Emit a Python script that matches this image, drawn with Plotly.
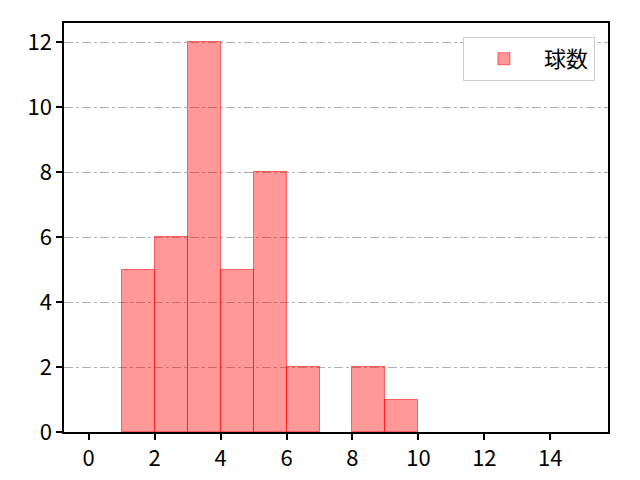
import plotly.graph_objects as go

# histogram bins (left edges, width 1) and counts
bin_left = [1, 2, 3, 4, 5, 6, 7, 8, 9]
counts = [5, 6, 12, 5, 8, 2, 0, 2, 1]
series_name = "球数"

x_ticks = [0, 2, 4, 6, 8, 10, 12, 14]
y_ticks = [0, 2, 4, 6, 8, 10, 12]

font_family = "Noto Sans CJK JP"

fig = go.Figure(data=[go.Bar(
    x=[b + 0.5 for b in bin_left],
    y=[c if c else None for c in counts],  # empty bins draw nothing
    width=1,
    name=series_name,
    marker=dict(color="rgba(255,0,0,0.4)",
                line=dict(color="rgba(255,0,0,0.55)", width=1)),
    showlegend=True,
)])

axis_common = dict(
    showline=True, linecolor="black", linewidth=1.5, mirror=True,
    ticks="outside", ticklen=6, tickwidth=1.5, tickcolor="black",
    zeroline=False, automargin=False,
    tickfont=dict(size=22, color="black", family=font_family),
)

fig.update_layout(
    width=640, height=480,
    margin=dict(l=64, r=32, t=23, b=48),
    paper_bgcolor="white", plot_bgcolor="white",
    font=dict(family=font_family, color="black"),
    bargap=0,
    xaxis=dict(range=[-0.75, 15.75], tickvals=x_ticks, showgrid=False, **axis_common),
    yaxis=dict(range=[0, 12.6], tickvals=y_ticks, showgrid=True,
               gridcolor="rgba(176,176,176,1)", griddash="dashdot", gridwidth=1,
               **axis_common),
    legend=dict(x=0.976, y=0.966, xanchor="right", yanchor="top",
                bgcolor="white", bordercolor="#cccccc", borderwidth=1,
                font=dict(size=22, family=font_family),
                itemwidth=70),
)

fig.write_html("out.html", config={"displayModeBar": False},
               post_script="document.body.style.margin='0';")
